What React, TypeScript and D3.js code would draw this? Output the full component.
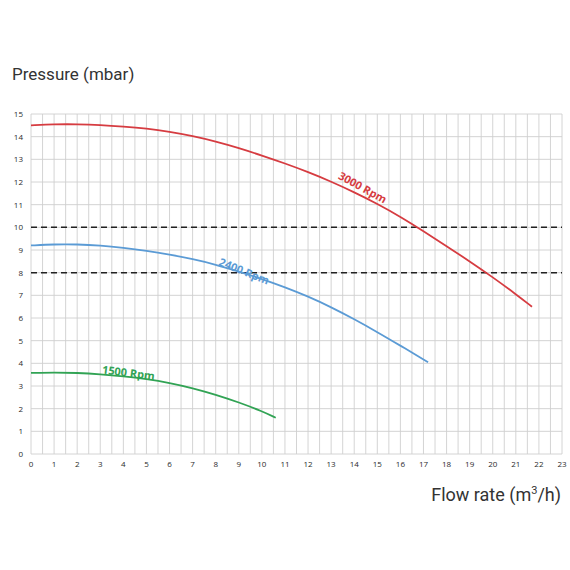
import React from "react";
import * as d3 from "d3";

// 曲線資料 (流量 m³/h, 壓力 mbar)
const flow3000 = [0, 1, 2, 3, 4, 5, 6, 7, 8, 9, 10, 11, 12, 13, 14, 15, 16, 17, 18, 19, 20, 21, 21.7];
const pres3000 = [14.5, 14.55, 14.55, 14.52, 14.45, 14.36, 14.22, 14.03, 13.79, 13.5, 13.17, 12.82, 12.44, 12.02, 11.55, 11.04, 10.47, 9.83, 9.17, 8.5, 7.8, 7.05, 6.5];

const flow2400 = [0, 1, 2, 3, 4, 5, 6, 7, 8, 9, 10, 11, 12, 13, 14, 15, 16, 17.2];
const pres2400 = [9.2, 9.25, 9.25, 9.2, 9.1, 8.97, 8.8, 8.6, 8.36, 8.05, 7.72, 7.36, 6.95, 6.48, 5.95, 5.38, 4.78, 4.05];

const flow1500 = [0, 1, 2, 3, 4, 5, 6, 7, 8, 9, 10, 10.6];
const pres1500 = [3.58, 3.6, 3.58, 3.52, 3.43, 3.31, 3.14, 2.91, 2.62, 2.28, 1.89, 1.6];

const xTicks = d3.range(0, 24);
const yTicks = d3.range(0, 16);
const limitLines = [10, 8];

const series = [
    { name: "3000 Rpm", flow: flow3000, pres: pres3000, color: "#d63c41", labelAt: 14.2, angle: 29, dy: -4 },
    { name: "2400 Rpm", flow: flow2400, pres: pres2400, color: "#5b9bd5", labelAt: 9.2, angle: 22, dy: 2 },
    { name: "1500 Rpm", flow: flow1500, pres: pres1500, color: "#31a354", labelAt: 4.2, angle: 7, dy: 0 },
];

export default function App() {
    const x = d3.scaleLinear().domain([0, 23]).range([31, 562]);
    const y = d3.scaleLinear().domain([0, 15]).range([454, 114]);

    const line = d3.line<[number, number]>()
        .x(d => x(d[0]))
        .y(d => y(d[1]))
        .curve(d3.curveBasis);

    const halfTicks = d3.range(0, 23.5, 0.5);

    return (
        <svg width={570} height={570} style={{ position: "absolute", left: 0, top: 0, background: "#fff" }}>
            {/* 格線 */}
            {halfTicks.map(t => (
                <line key={"gx" + t} x1={x(t)} x2={x(t)} y1={y(0)} y2={y(15)} stroke="#cfcfcf" strokeWidth={0.9} />
            ))}
            {yTicks.map(t => (
                <line key={"gy" + t} x1={x(0)} x2={x(23)} y1={y(t)} y2={y(t)} stroke="#cfcfcf" strokeWidth={0.9} />
            ))}

            {/* 刻度 */}
            {yTicks.map(t => (
                <text key={"ty" + t} x={23} y={y(t) + 3} fontSize={8} fontFamily="'Open Sans', sans-serif" fill="#2a2a2a" textAnchor="end">{t}</text>
            ))}
            {xTicks.map(t => (
                <text key={"tx" + t} x={x(t)} y={467} fontSize={8} fontFamily="'Open Sans', sans-serif" fill="#2a2a2a" textAnchor="middle">{t}</text>
            ))}

            {/* 虛線 */}
            {limitLines.map(v => (
                <line key={"d" + v} x1={x(0)} x2={x(23)} y1={y(v)} y2={y(v)} stroke="#222" strokeWidth={1.5} strokeDasharray="6,4" />
            ))}

            {/* 曲線 */}
            {series.map(s => {
                const pts = s.flow.map((f, i) => [f, s.pres[i]] as [number, number]);
                const lx = x(s.labelAt);
                const idx = d3.bisectLeft(s.flow, s.labelAt);
                const f0 = s.flow[idx - 1], f1 = s.flow[idx];
                const p0 = s.pres[idx - 1], p1 = s.pres[idx];
                const pv = p0 + (p1 - p0) * (s.labelAt - f0) / (f1 - f0);
                return (
                    <g key={s.name}>
                        <path d={line(pts) || ""} fill="none" stroke={s.color} strokeWidth={1.8} />
                        <text x={lx} y={y(pv) + s.dy} fill={s.color} fontSize={11} fontWeight="bold"
                            fontFamily="'Open Sans', sans-serif" textAnchor="middle"
                            transform={`rotate(${s.angle}, ${lx}, ${y(pv)})`}>{s.name}</text>
                    </g>
                );
            })}

            {/* 軸標題 */}
            <text x={12} y={80} fontSize={17} fontFamily="Roboto, sans-serif" fill="#333">Pressure (mbar)</text>
            <text x={561} y={501} fontSize={18} fontFamily="Roboto, sans-serif" fill="#333" textAnchor="end">
                Flow rate (m<tspan fontSize={11} dy={-7}>3</tspan><tspan dy={7}>/h)</tspan>
            </text>
        </svg>
    );
}
